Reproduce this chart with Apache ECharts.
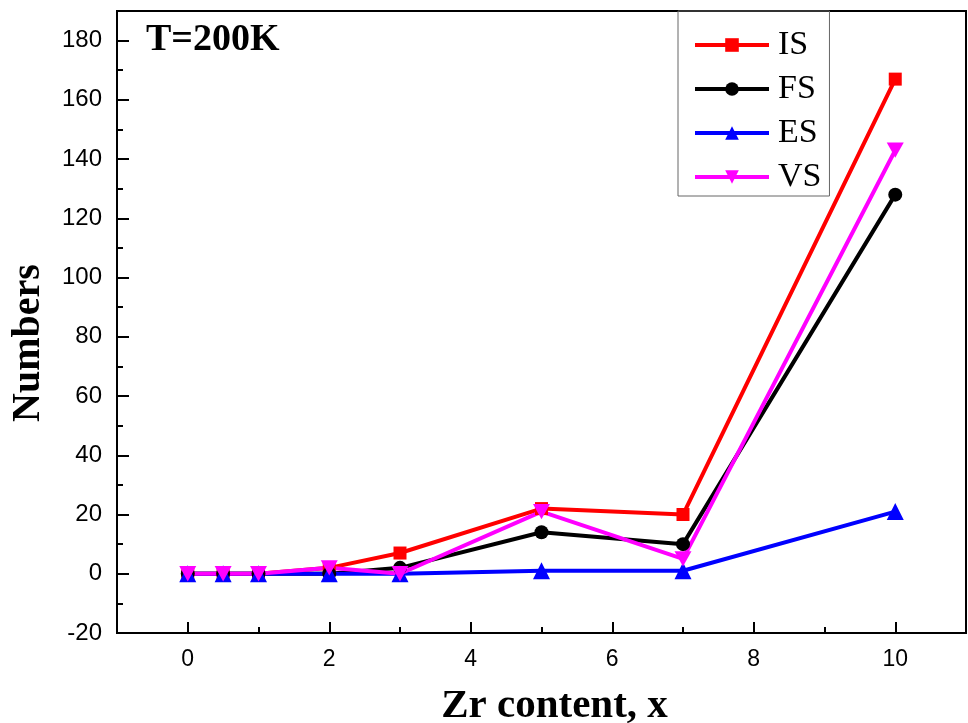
<!DOCTYPE html>
<html><head><meta charset="utf-8">
<script src="https://cdn.jsdelivr.net/npm/echarts@6/dist/echarts.min.js"></script>
<style>html,body{margin:0;padding:0;background:#fff}#c{width:968px;height:723px}</style>
</head><body><div id="c"></div>
<script>
const xValues = [0, 0.5, 1, 2, 3, 5, 7, 10];
const isVals = [0, 0, 0, 2, 7, 22, 20, 167];
const fsVals = [0, 0, 0, 0, 2, 14, 10, 128];
const esVals = [0, 0, 0, 0, 0, 1, 1, 21];
const vsVals = [0, 0, 0, 2, 0, 21, 5, 143];
const xMajorTicks = [0, 2, 4, 6, 8, 10];
const xMinorTicks = [1, 3, 5, 7, 9];
const yMajorTicks = [-20, 0, 20, 40, 60, 80, 100, 120, 140, 160, 180];
const yMinorTicks = [-10, 10, 30, 50, 70, 90, 110, 130, 150, 170];

const chart = echarts.init(document.getElementById('c'));
const pair = v => xValues.map((x, i) => [x, v[i]]);
const downTri = 'path://M0,0 L10,0 L5,9 Z';
function mk(name, vals, color, symbol, size) {
  return { name, type: 'line', data: pair(vals), symbol, symbolSize: size, symbolKeepAspect: true,
    lineStyle: { color, width: 4 }, itemStyle: { color }, z: 3 };
}
chart.setOption({
  animation: false,
  grid: { left: 117, right: 2, top: 11, bottom: 90, show: true, borderColor: '#000', borderWidth: 2, outerBoundsMode: 'none', containLabel: false },
  title: { text: 'T=200K', left: 146, top: 21, padding: 0, textStyle: { fontFamily: 'Liberation Serif', fontWeight: 'bold', fontSize: 38, color: '#000' } },
  legend: {
    orient: 'vertical', left: 678, top: 11,
    padding: [17, 8, 2, 15], itemGap: 10, itemWidth: 74, itemHeight: 17,
    borderColor: '#666', borderWidth: 1,
    lineStyle: { width: 4 },
    textStyle: { fontFamily: 'Liberation Serif', fontSize: 34, color: '#000', lineHeight: 34, padding: [0, 0, 0, 4] },
    data: ['IS', 'FS', 'ES', 'VS']
  },
  xAxis: [{
    type: 'value', min: -1, max: 11,
    name: 'Zr content, x', nameLocation: 'middle', nameGap: 53,
    nameTextStyle: { fontFamily: 'Liberation Serif', fontWeight: 'bold', fontSize: 41, color: '#000', padding: [0, 0, 0, 26] },
    axisLine: { show: true, onZero: false, lineStyle: { color: '#000', width: 2 } },
    axisTick: { show: true, inside: true, length: 11, customValues: xMajorTicks, lineStyle: { color: '#000', width: 2 } },
    axisLabel: { customValues: xMajorTicks, margin: 15, fontFamily: 'Liberation Sans', fontSize: 23, color: '#000' },
    splitLine: { show: false }
  }, {
    type: 'value', min: -1, max: 11, position: 'bottom',
    axisLine: { show: false, onZero: false },
    axisTick: { show: true, inside: true, length: 6, customValues: xMinorTicks, lineStyle: { color: '#000', width: 2 } },
    axisLabel: { show: false }, splitLine: { show: false }
  }],
  yAxis: [{
    type: 'value', min: -20, max: 190,
    name: 'Numbers', nameLocation: 'middle', nameGap: 68,
    nameTextStyle: { fontFamily: 'Liberation Serif', fontWeight: 'bold', fontSize: 40, color: '#000', padding: [0, 42, 0, 0] },
    axisLine: { show: true, onZero: false, lineStyle: { color: '#000', width: 2 } },
    axisTick: { show: true, inside: true, length: 12, customValues: yMajorTicks, lineStyle: { color: '#000', width: 2 } },
    axisLabel: { customValues: yMajorTicks, margin: 15, fontFamily: 'Liberation Sans', fontSize: 24, color: '#000' },
    splitLine: { show: false }
  }, {
    type: 'value', min: -20, max: 190, position: 'left',
    axisLine: { show: false, onZero: false },
    axisTick: { show: true, inside: true, length: 6, customValues: yMinorTicks, lineStyle: { color: '#000', width: 2 } },
    axisLabel: { show: false }, splitLine: { show: false }
  }],
  series: [
    mk('IS', isVals, '#ff0000', 'rect', 13),
    mk('FS', fsVals, '#000000', 'circle', 14),
    mk('ES', esVals, '#0000ff', 'triangle', 17),
    mk('VS', vsVals, '#ff00ff', downTri, 17)
  ]
});
</script>
</body></html>
